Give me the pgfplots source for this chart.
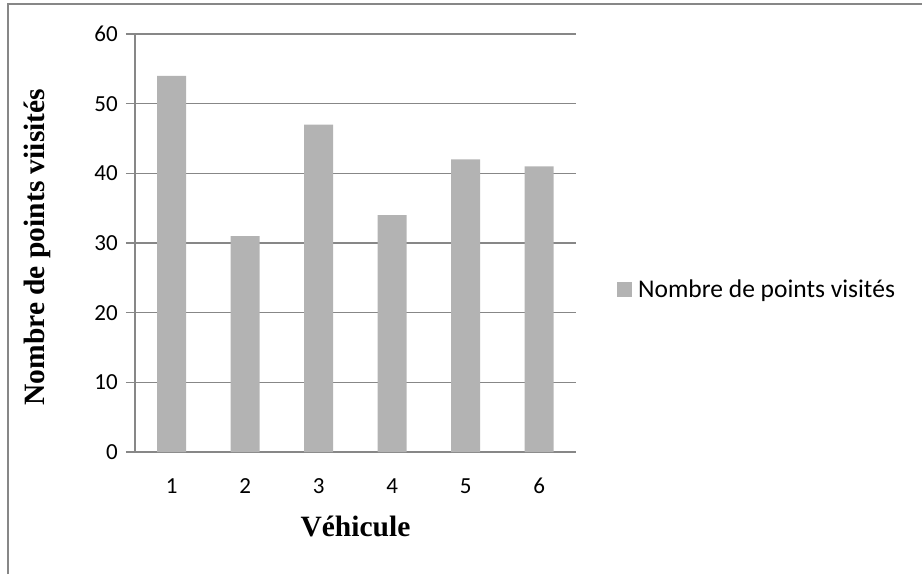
\documentclass[border=0pt]{standalone}
\usepackage{pgfplots}
\pgfplotsset{compat=1.18}
\usepackage{fontspec}
\setmainfont{Carlito}
\newfontfamily\tnr{Liberation Serif}
\definecolor{barfill}{RGB}{179,179,179}
\definecolor{gridgray}{RGB}{135,135,135}
\newcommand{\ticksize}{\fontsize{23}{27}\selectfont}
\begin{document}
\begin{tikzpicture}[x=1pt,y=1pt]
% page frame
\useasboundingbox (0,0) rectangle (922,574);
\draw[gridgray,line width=2pt] (8,0) -- (8,570) -- (922,570);
\begin{axis}[
  at={(135pt,122pt)}, anchor=south west,
  scale only axis, width=441pt, height=418pt,
  xmin=0.5, xmax=6.5, ymin=0, ymax=60,
  xtick={1,...,6}, ytick={0,10,...,60},
  axis lines=left, axis line style={-, gridgray, line width=1.3pt},
  ymajorgrids, grid style={gridgray, line width=1.3pt},
  tick align=outside, major tick length=9pt,
  xtick style={draw=none},
  ytick style={gridgray, line width=1.3pt},
  tick label style={font=\ticksize},
  xticklabel={\hbox{\ticksize\pgfmathprintnumber[assume math mode=true]{\tick}}},
  yticklabel={\hbox{\ticksize\pgfmathprintnumber[assume math mode=true]{\tick}}},
  xticklabel style={anchor=base, inner sep=0pt, yshift=-32pt},
  yticklabel style={anchor=east, inner sep=0pt, xshift=-8pt},
  ybar, bar width=29pt,
  xlabel={V\'ehicule},
  ylabel={Nombre de points viisit\'es},
  every axis x label/.style={at={(axis description cs:0.5,-0.2033)}, anchor=base,
    font=\fontsize{29.5}{34}\selectfont\tnr\bfseries},
  every axis y label/.style={at={(axis description cs:-0.2222,0.49)}, anchor=center, rotate=90,
    font=\fontsize{29.5}{34}\selectfont\tnr\bfseries},
  legend style={at={(axis description cs:1,0.388)}, anchor=west, xshift=41pt,
    draw=none, fill=none, inner sep=0pt,
    font=\fontsize{25.5}{30}\selectfont,
    nodes={inner ysep=3pt, inner xsep=6pt}},
  legend image code/.code={\fill[barfill] (0pt,-7.5pt) rectangle (15pt,7.5pt);},
]
\addplot[fill=barfill, draw=none] coordinates {(1,54) (2,31) (3,47) (4,34) (5,42) (6,41)};
\addlegendentry{Nombre de points visités}
\end{axis}
\end{tikzpicture}
\end{document}
